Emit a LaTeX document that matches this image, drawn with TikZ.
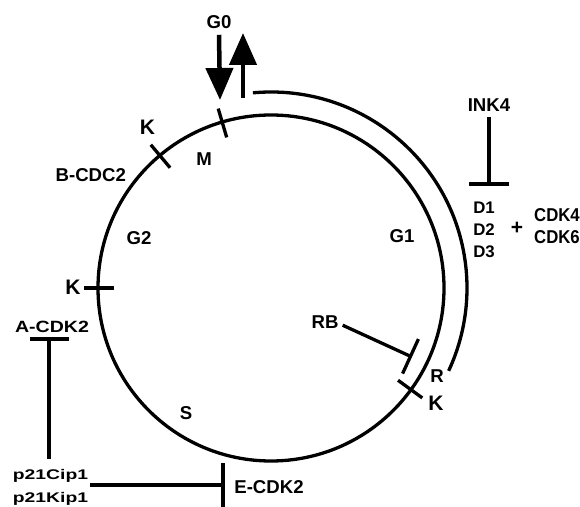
\documentclass[tikz,border=0pt]{standalone}
\usepackage{fontspec}
\setmainfont{Liberation Sans}
\usetikzlibrary{arrows.meta}
\begin{document}
\begin{tikzpicture}[x=1pt,y=1pt,
  ring/.style={line width=3.3pt},
  tickmark/.style={line width=3.3pt},
  inhib/.style={line width=4pt},
  bigarrow/.style={line width=4.5pt,-{Triangle[length=32pt,width=27pt]}},
  lbl/.style={inner sep=0pt,anchor=base,font=\bfseries\fontsize{18.6}{20}\selectfont},
  klbl/.style={inner sep=0pt,anchor=base,font=\bfseries\fontsize{21}{23}\selectfont},
  dlbl/.style={inner sep=0pt,anchor=base,font=\bfseries\fontsize{16.8}{18}\selectfont},
  plbl/.style={inner sep=0pt,anchor=base,font=\bfseries\fontsize{14}{16}\selectfont\addfontfeature{FakeStretch=1.38}},
  albl/.style={inner sep=0pt,anchor=base,font=\bfseries\fontsize{16.3}{18}\selectfont\addfontfeature{FakeStretch=1.2}},
  clbl/.style={inner sep=0pt,anchor=base,font=\bfseries\fontsize{18.6}{20}\selectfont\addfontfeature{FakeStretch=0.9}}
]
\useasboundingbox (0,0) rectangle (580,506);
\coordinate (c) at (271,218);

% cell cycle ring
\draw[ring] (c) circle[radius=173];
% outer arc (G0 exit to R)
\draw[ring] ([shift={(95.3:196)}]c) arc[start angle=95.3, end angle=-25, radius=196];

% ticks
\begin{scope}[shift={(c)}]
\draw[tickmark] (106.4:157) -- (106.4:187);
\draw[tickmark] (130:157) -- (130:187);
\draw[tickmark] (180:157) -- (180:187);
\draw[tickmark] (-36:157) -- (-36:187);
\end{scope}

% labels
\node[lbl] (g0) at (219,477.6) {G0};
\node[lbl] (ink4) at (489,394.3) {INK4};
\node[dlbl] (d1) at (484,292) {D1};
\node[dlbl] (d2) at (484,270) {D2};
\node[dlbl] (d3) at (484,248) {D3};
\node[inner sep=0pt,font=\bfseries\fontsize{21}{23}\selectfont] (plus) at (517,278) {+};
\node[clbl] (cdk4) at (557,284.4) {CDK4};
\node[clbl] (cdk6) at (557,262.4) {CDK6};
\node[lbl] (g1) at (402,263.4) {G1};
\node[lbl] (rb) at (325,177.4) {RB};
\node[lbl] (r) at (437,123.4) {R};
\node[klbl] (klr) at (436,96) {K};
\node[lbl] (s) at (186,86.4) {S};
\node[lbl] (ecdk2) at (269,12.4) {E-CDK2};
\node[plbl] (cip) at (50.5,27) {p21Cip1};
\node[plbl] (kip) at (50.5,4) {p21Kip1};
\node[albl] (acdk2) at (52,173.2) {A-CDK2};
\node[klbl] (kl) at (73,211) {K};
\node[lbl] (g2) at (139,261.9) {G2};
\node[lbl] (bcdc2) at (90.8,324.4) {B-CDC2};
\node[klbl] (kul) at (147.5,371) {K};
\node[lbl] (m) at (204,340.4) {M};

% G0 arrows
\coordinate (downtip) at (220,406);
\coordinate (upbase) at (243,408);
\coordinate (uptip) at (243,473);
\draw[bigarrow] ([yshift=-6pt]g0.south) -- (downtip);
\draw[bigarrow] (upbase) -- (uptip);

% inhibitions
\coordinate (ink4bar) at (489,320);
\draw[inhib,-{Bar[width=40pt,line width=4pt]}] ([yshift=-5pt]ink4.south) -- (ink4bar);

\coordinate (rbbar) at (412,149);
\draw[line width=3.3pt,-{Bar[width=38pt,line width=3.3pt]}] ([xshift=4pt,yshift=-3pt]rb.east) -- (rbbar);

\coordinate (abar) at (49,169);
\draw[inhib,shorten <=10pt,-{Bar[width=39pt,line width=4pt]}] (cip.north -| abar) -- (abar);

\coordinate (ebar) at (225,21);
\draw[inhib,shorten <=2pt,-{Bar[width=44pt,line width=4pt]}] (cip.east |- ebar) -- (ebar);
\end{tikzpicture}
\end{document}
